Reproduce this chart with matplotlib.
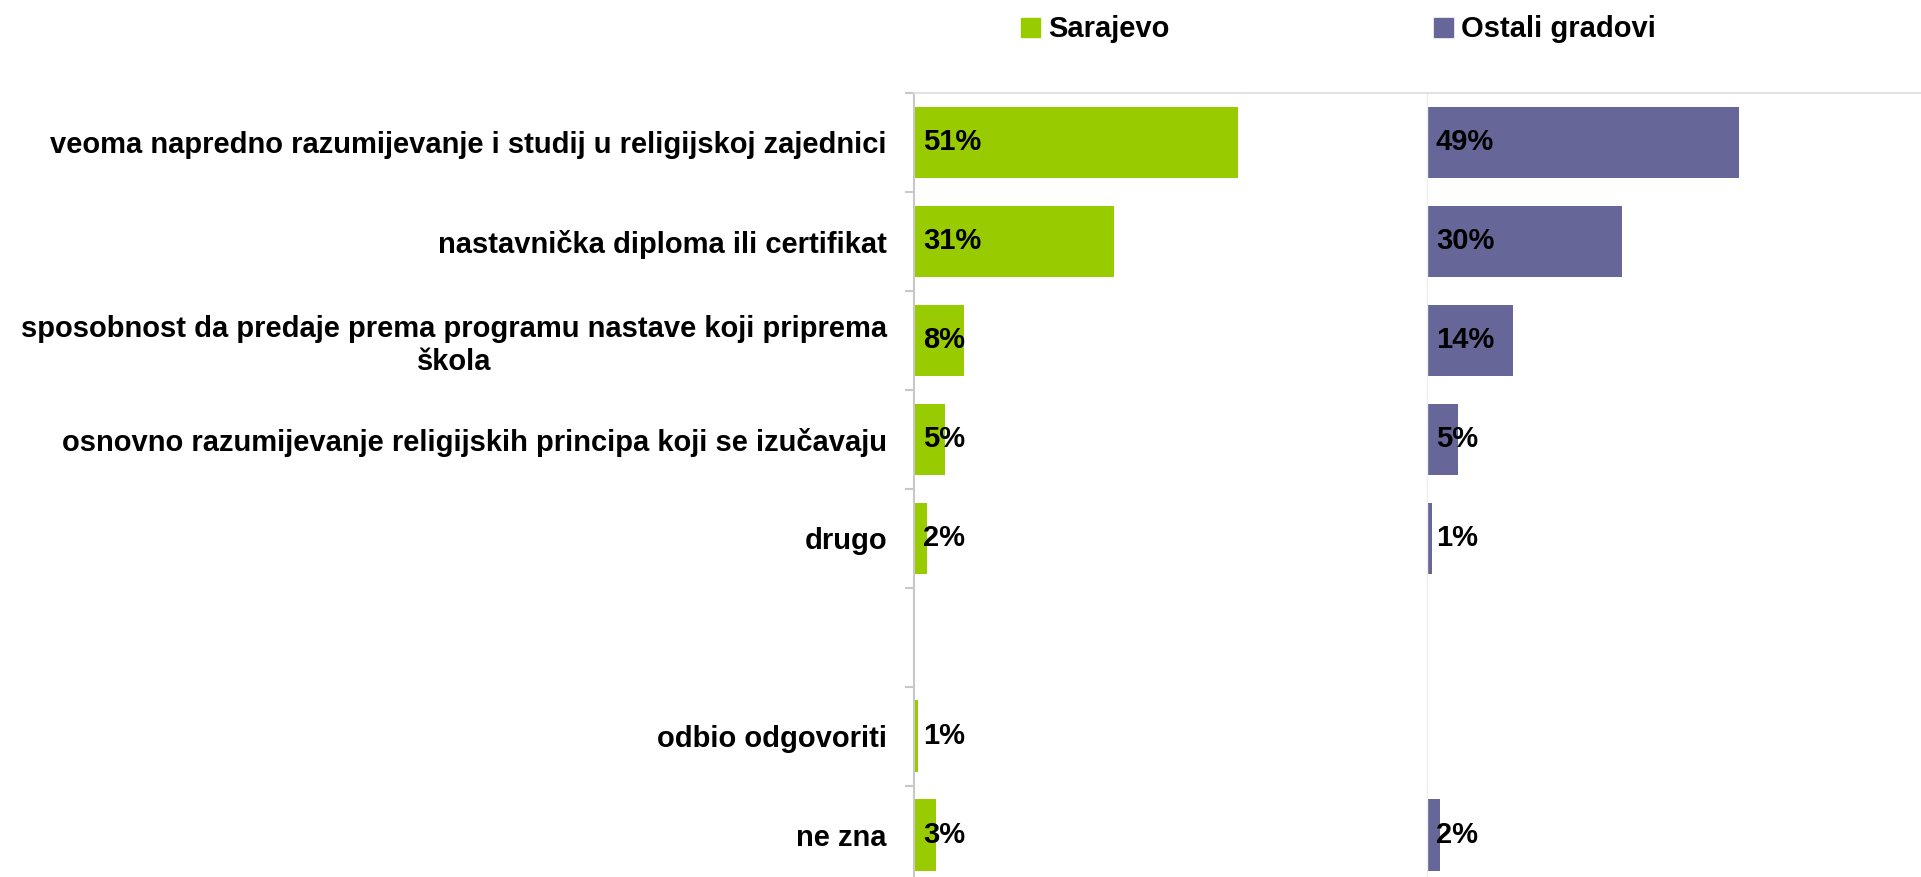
import numpy as np
import matplotlib.pyplot as plt
from matplotlib.patches import Rectangle

plt.rcParams['font.family'] = ['Liberation Sans', 'DejaVu Sans']
plt.rcParams['font.weight'] = 'bold'

# Data
categories = [
    "veoma napredno razumijevanje i studij u religijskoj zajednici",
    "nastavnička diploma ili certifikat",
    "sposobnost da predaje prema programu nastave koji priprema\nškola",
    "osnovno razumijevanje religijskih principa koji se izučavaju",
    "drugo",
    "",
    "odbio odgovoriti",
    "ne zna",
]
series_names = ["Sarajevo", "Ostali gradovi"]
sarajevo = [50.9, 31.4, 7.9, 4.8, 2.0, np.nan, 0.6, 3.5]
ostali = [49.1, 30.6, 13.6, 4.9, 0.8, np.nan, np.nan, 2.0]
sarajevo_labels = ["51%", "31%", "8%", "5%", "2%", "", "1%", "3%"]
ostali_labels = ["49%", "30%", "14%", "5%", "1%", "", "", "2%"]

colors = ["#99CC00", "#666699"]

W, H = 1921, 877
fig = plt.figure(figsize=(W / 100, H / 100), dpi=100)

y = np.arange(len(categories))
px_per_pct = 6.36

ax1 = fig.add_axes([914 / W, -7.5 / H, 513 / W, 791.5 / H])
ax2 = fig.add_axes([1427 / W, -7.5 / H, 494 / W, 791.5 / H])

for ax, vals, labs, col, width_px in [
    (ax1, sarajevo, sarajevo_labels, colors[0], 513),
    (ax2, ostali, ostali_labels, colors[1], 494),
]:
    ax.barh(y, vals, height=0.72, color=col)
    ax.set_xlim(0, width_px / px_per_pct)
    ax.set_ylim(len(categories) - 0.5, -0.5)
    ax.set_xticks([])
    for s in ["right", "bottom"]:
        ax.spines[s].set_visible(False)
    ax.spines["top"].set_color("#dddddd")
    ax.spines["top"].set_linewidth(1.2)
    for yi, lab in zip(y, labs):
        if lab:
            ax.annotate(lab, (0, yi), xytext=(9, 0), textcoords="offset pixels",
                        va="center", ha="left", fontsize=21, fontweight="bold")

# left panel axis with category labels
ax1.spines["left"].set_color("#c8c8c8")
ax1.spines["left"].set_linewidth(1.5)
ax1.set_yticks(y)
ax1.set_yticklabels(categories, fontsize=21, fontweight="bold", multialignment="center")
ax1.tick_params(axis="y", which="major", length=0, pad=19.5)
ax1.set_yticks(np.arange(len(categories) + 1) - 0.5, minor=True)
ax1.tick_params(axis="y", which="minor", length=6.5, width=1.5, color="#c8c8c8")

ax2.spines["left"].set_color("#eeeeee")
ax2.spines["left"].set_linewidth(1.0)
ax2.set_yticks([])

# legend
for x0, name, col in zip([1021, 1434], series_names, colors):
    fig.add_artist(Rectangle((x0 / W, 1 - 37 / H), 19 / W, 19 / H,
                             transform=fig.transFigure, color=col))
    fig.text((x0 + 27) / W, 1 - 37 / H, name, va="baseline", ha="left",
             fontsize=21, fontweight="bold")

fig.savefig("out.png", dpi=100)
